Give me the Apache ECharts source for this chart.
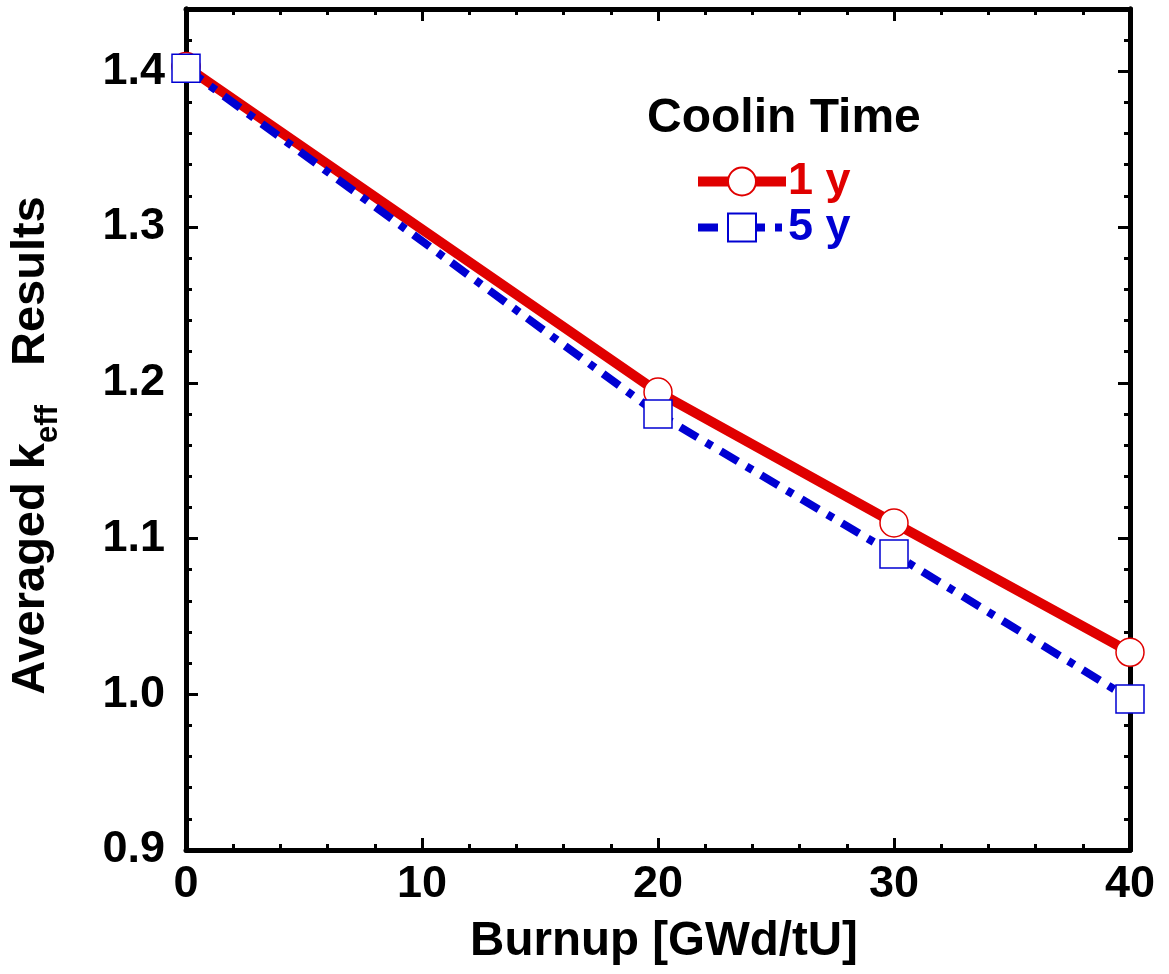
<!DOCTYPE html>
<html>
<head>
<meta charset="utf-8">
<script src="https://cdn.jsdelivr.net/npm/echarts@6/dist/echarts.min.js"></script>
<style>
html,body{margin:0;padding:0;background:#fff;}
#c{width:1169px;height:974px;}
</style>
</head>
<body>
<div id="c"></div>
<script>
// ---- data ----
const burnup = [0, 20, 30, 40];
const cool1y = [1.403, 1.194, 1.110, 1.027];
const cool5y = [1.402, 1.180, 1.090, 0.997];
const seriesNames = ['1 y', '5 y'];
const legendTitle = 'Coolin Time';
const xTitle = 'Burnup [GWd/tU]';
const yTitle = '{m|Averaged k}{sub|eff}{m|   Results}';
const xMin = 0, xMax = 40, xStep = 10;
const yMin = 0.9, yMax = 1.44, yStep = 0.1, yMinorStep = 0.02;

const FONT = '"Liberation Sans", Arial, Helvetica, sans-serif';
const RED = '#e00000', BLUE = '#0000d2';
const BLUE_DASH = [20, 10, 7, 10];

function pairs(xs, ys){ return xs.map((x,i)=>[x, ys[i]]); }

const axisLineStyle = {show:true, lineStyle:{color:'#000', width:5}};
const chart = echarts.init(document.getElementById('c'), null, {renderer:'canvas'});

const labelFmtY = v => {
  const k = Math.round(v / yStep);
  return Math.abs(k * yStep - v) < 1e-6 && v <= 1.4 + 1e-9 ? v.toFixed(1) : '';
};

chart.setOption({
  animation:false,
  backgroundColor:'#fff',
  title:{
    text: legendTitle, left: 642, top: 90,
    textStyle:{fontFamily:FONT, fontWeight:'bold', fontSize:48, color:'#000'}
  },
  legend:{
    orient:'vertical', left: 688, top: 154,
    itemWidth: 88, itemHeight: 35, itemGap: 1,
    textStyle:{fontFamily:FONT, fontWeight:'bold', fontSize:45, padding:[0,0,0,-3]},
    data:[
      {name: seriesNames[0], textStyle:{color:RED}, lineStyle:{width:10, color:RED}},
      {name: seriesNames[1], textStyle:{color:BLUE}, lineStyle:{width:8, color:BLUE, type:BLUE_DASH}}
    ]
  },
  grid:{left:183, right:39, top:9, bottom:124, containLabel:false},
  xAxis:[
    {
      type:'value', position:'bottom', min:xMin, max:xMax, interval:xStep,
      name: xTitle, nameLocation:'middle', nameGap: 68,
      nameTextStyle:{fontFamily:FONT, fontWeight:'bold', fontSize:47.5, color:'#000', padding:[0,0,0,12]},
      axisLine: axisLineStyle,
      axisTick:{show:true, inside:true, length:12, lineStyle:{color:'#000', width:3}},
      minorTick:{show:true, splitNumber:5, length:6, lineStyle:{color:'#000', width:3}},
      axisLabel:{show:true, margin:12, fontFamily:FONT, fontWeight:'bold', fontSize:45, color:'#000'},
      splitLine:{show:false}, minorSplitLine:{show:false}
    },
    {
      type:'value', position:'top', min:xMin, max:xMax, interval:xStep,
      axisLine: axisLineStyle,
      axisTick:{show:true, inside:true, length:12, lineStyle:{color:'#000', width:3}},
      minorTick:{show:true, splitNumber:5, length:6, lineStyle:{color:'#000', width:3}},
      axisLabel:{show:false}, splitLine:{show:false}
    }
  ],
  yAxis:[
    {
      type:'value', position:'left', min:yMin, max:yMax, interval:yStep,
      name: yTitle, nameLocation:'middle', nameGap: 122, nameRotate: 90,
      nameTextStyle:{fontFamily:FONT, fontWeight:'bold', fontSize:47, color:'#000', padding:[0,32,0,0],
        rich:{
          m:{fontFamily:FONT, fontWeight:'bold', fontSize:47, lineHeight:56, verticalAlign:'top', color:'#000'},
          sub:{fontFamily:FONT, fontWeight:'bold', fontSize:31, lineHeight:40, padding:[24,0,0,0], verticalAlign:'bottom', color:'#000'}
        }},
      axisLine: axisLineStyle,
      axisTick:{show:true, inside:true, length:12, lineStyle:{color:'#000', width:3}},
      axisLabel:{show:true, margin:21, fontFamily:FONT, fontWeight:'bold', fontSize:45, color:'#000', formatter: labelFmtY},
      splitLine:{show:false}
    },
    {
      type:'value', position:'left', min:yMin, max:yMax, interval:yMinorStep,
      axisLine: axisLineStyle,
      axisTick:{show:true, inside:true, length:6, lineStyle:{color:'#000', width:3}},
      axisLabel:{show:false}, splitLine:{show:false}
    },
    {
      type:'value', position:'right', min:yMin, max:yMax, interval:yStep,
      axisLine: axisLineStyle,
      axisTick:{show:true, inside:true, length:12, lineStyle:{color:'#000', width:3}},
      axisLabel:{show:false}, splitLine:{show:false}
    },
    {
      type:'value', position:'right', min:yMin, max:yMax, interval:yMinorStep,
      axisLine: axisLineStyle,
      axisTick:{show:true, inside:true, length:6, lineStyle:{color:'#000', width:3}},
      axisLabel:{show:false}, splitLine:{show:false}
    }
  ],
  series:[
    {
      name: seriesNames[0], type:'line', xAxisIndex:0, yAxisIndex:0,
      data: pairs(burnup, cool1y),
      symbol:'circle', symbolSize:28,
      lineStyle:{color:RED, width:10},
      itemStyle:{color:'#fff', borderColor:RED, borderWidth:1.5},
      z:2
    },
    {
      name: seriesNames[1], type:'line', xAxisIndex:0, yAxisIndex:0,
      data: pairs(burnup, cool5y),
      symbol:'rect', symbolSize:28,
      lineStyle:{color:BLUE, width:8, type:BLUE_DASH},
      itemStyle:{color:'#fff', borderColor:BLUE, borderWidth:1.5},
      z:3
    }
  ]
});
</script>
</body>
</html>
